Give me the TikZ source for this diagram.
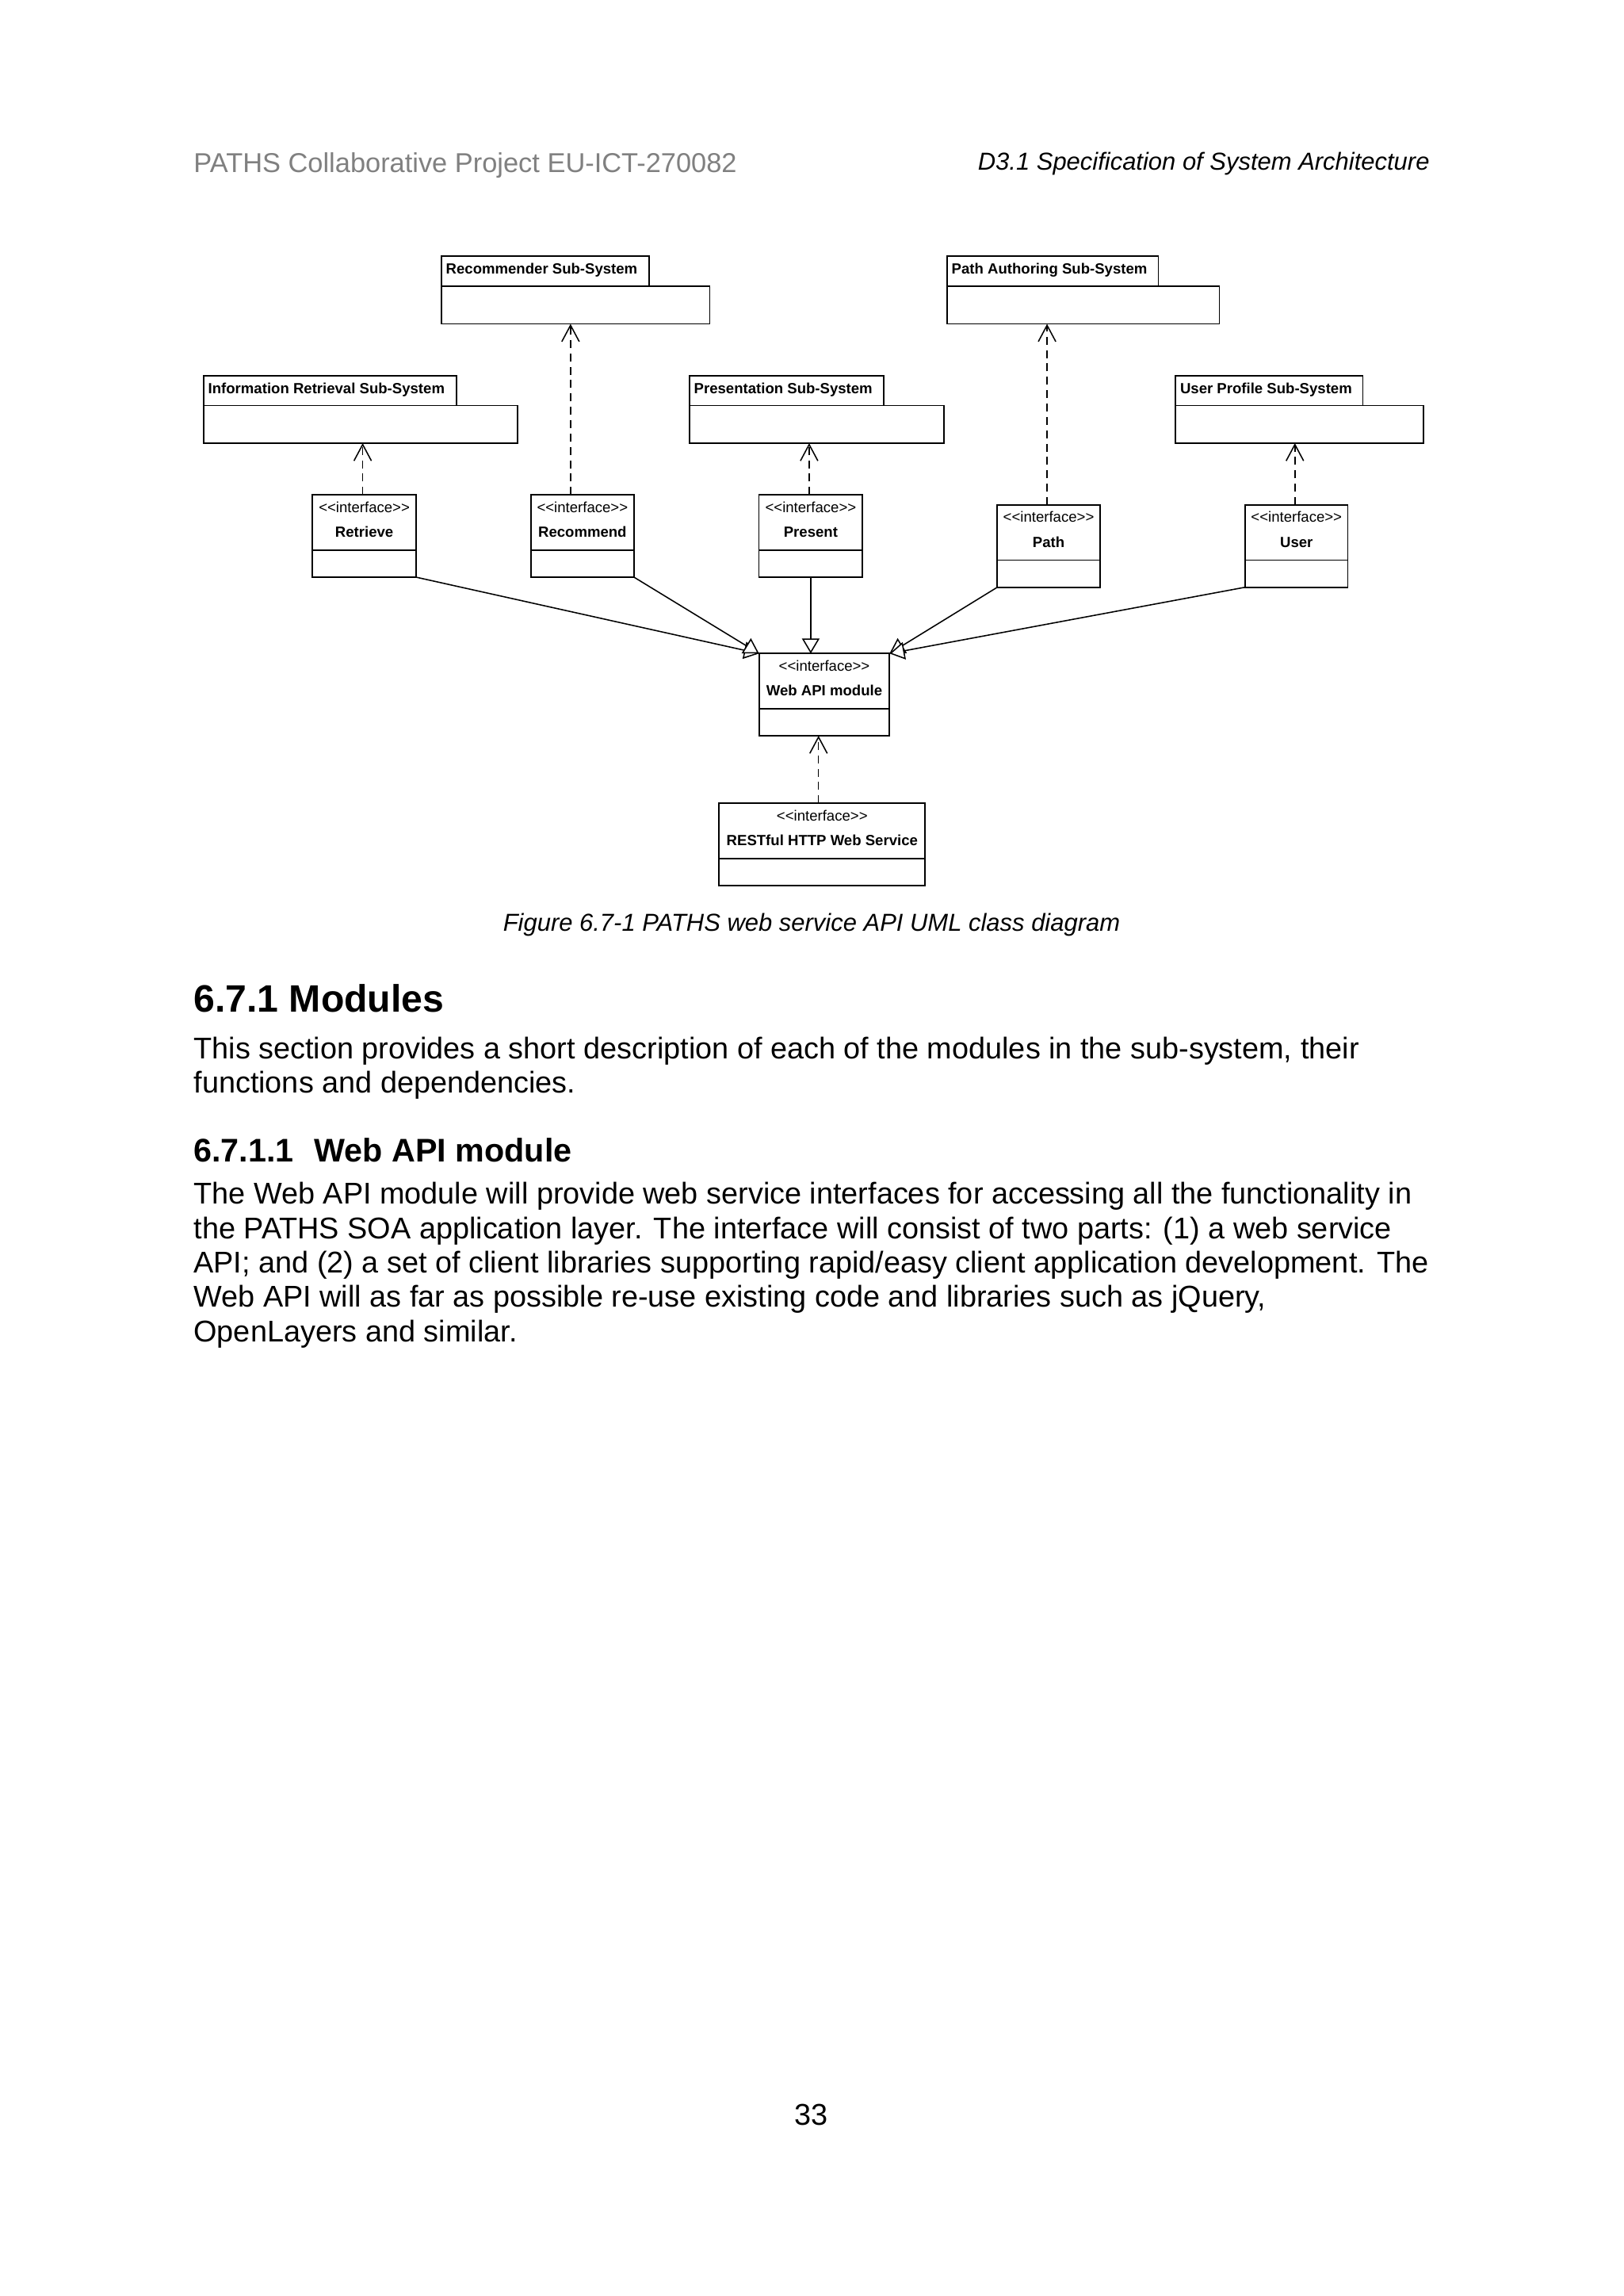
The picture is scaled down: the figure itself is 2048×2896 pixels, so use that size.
\documentclass[tikz,border=0pt]{standalone}
\usepackage{fontspec}
\setmainfont{Liberation Sans}
\usetikzlibrary{arrows.meta,calc}
\newlength\PX \setlength\PX{0.29067pt}
\definecolor{hdrgray}{RGB}{128,128,128}
\tikzset{
 ubox/.style={draw, line width=0.5pt, anchor=north west, inner sep=0pt, outer sep=0pt, fill=white},
 boxline/.style={line width=0.5pt},
 tablabel/.style={anchor=base west, inner sep=0pt, font=\fontsize{5.4pt}{6.5pt}\selectfont\bfseries},
 stereo/.style={anchor=base, inner sep=0pt, font=\fontsize{5.4pt}{6.5pt}\selectfont},
 iname/.style={anchor=base, inner sep=0pt, font=\fontsize{5.4pt}{6.5pt}\selectfont\bfseries},
 dep/.style={line width=0.45pt, dash pattern=on 2.9pt off 2pt, -{Straight Barb[length=6pt,width=6.4pt]}},
 gen/.style={line width=0.45pt, -{Triangle[length=5.5pt,width=6.4pt,fill=white]}},
 txt/.style={anchor=base west, inner sep=0pt},
 body/.style={txt, font=\fontsize{11pt}{12.65pt}\selectfont},
}
\newcommand\umlpkg[6]{% name, x, y, tab width, body width, label
  \node[ubox, minimum width=#4\PX, minimum height=37.7\PX] (#1-tab) at (#2,#3) {};
  \node[tablabel] (#1-lb) at ($(#1-tab.north west)+(5,22.4)$) {#6};
  \node[ubox, minimum width=#5\PX, minimum height=47.6\PX] (#1) at (#1-tab.south west) {};
}
\newcommand\umliface[5]{% name, x, y, width, label
  \node[ubox, minimum width=#4\PX, minimum height=103.7\PX] (#1) at (#2,#3) {};
  \node[stereo] (#1-s) at ($(#1.north)+(0,21.7)$) {<{}<interface>{}>};
  \node[iname] (#1-n) at ($(#1.north)+(0,53)$) {#5};
  \draw[boxline] ($(#1.north west)+(0,69.4)$) -- ($(#1.north east)+(0,69.4)$);
}
\begin{document}
\begin{tikzpicture}[x=0.29067pt, y=-0.29067pt]
\fill[white] (0,0) rectangle (2048,2896);
\useasboundingbox (0,0) rectangle (2048,2896);

% header
\node[txt, font=\fontsize{10pt}{12pt}\selectfont, text=hdrgray] (hdrL) at (243.8,217) {PATHS Collaborative Project EU-ICT-270082};
\node[anchor=base east, inner sep=0pt, font=\fontsize{9pt}{11pt}\selectfont\itshape] (hdrR) at (1804.2,214) {D3.1 Specification of System Architecture};

% packages
\umlpkg{recsys}{557}{323.3}{262}{338.4}{Recommender Sub-System}
\umlpkg{pathsys}{1195}{323.3}{266.6}{343.4}{Path Authoring Sub-System}
\umlpkg{irsys}{257}{473.7}{319.2}{396}{Information Retrieval Sub-System}
\umlpkg{presys}{870}{473.7}{244.7}{321}{Presentation Sub-System}
\umlpkg{usersys}{1483.3}{473.7}{236.3}{313}{User Profile Sub-System}

% interfaces
\umliface{retrieve}{394.3}{624.3}{130.6}{Retrieve}
\umliface{recommend}{669.8}{624.3}{130.1}{Recommend}
\umliface{present}{957.6}{624.3}{130.6}{Present}
\umliface{path}{1258.3}{637}{129.5}{Path}
\umliface{user}{1571}{637}{129.5}{User}
\umliface{webapi}{957.7}{824.3}{164.6}{Web API module}
\umliface{rest}{907.3}{1013.3}{260}{RESTful HTTP Web Service}

% dependencies
\coordinate (dRet) at ($(retrieve.north)+(-2,0)$);
\coordinate (dRec) at ($(recommend.north)+(-15,0)$);
\coordinate (dPre) at ($(present.north)+(-2,0)$);
\coordinate (dPat) at ($(path.north)+(-2,0)$);
\coordinate (dUse) at ($(user.north)+(-2,0)$);
\coordinate (dRst) at ($(rest.north)+(-4.6,0)$);
\draw[dep] (dRet) -- (dRet |- irsys.south);
\draw[dep] (dRec) -- (dRec |- recsys.south);
\draw[dep] (dPre) -- (dPre |- presys.south);
\draw[dep] (dPat) -- (dPat |- pathsys.south);
\draw[dep] (dUse) -- (dUse |- usersys.south);
\draw[dep] (dRst) -- (dRst |- webapi.south);

% generalizations
\draw[gen] (retrieve.south east) -- (webapi.north west);
\draw[gen] (recommend.south east) -- (webapi.north west);
\draw[gen] (present.south) -- (present.south |- webapi.north);
\draw[gen] (path.south west) -- (webapi.north east);
\draw[gen] (user.south west) -- (webapi.north east);

% caption and text
\node[anchor=base, inner sep=0pt, font=\fontsize{9pt}{11pt}\selectfont\itshape] (caption) at (1024,1174) {Figure 6.7-1 PATHS web service API UML class diagram};
\node[txt, font=\fontsize{14pt}{17pt}\selectfont\bfseries] (h1) at (243.8,1276) {6.7.1 Modules};
\node[body] (p1a) at (243.8,1335) {This section provides a short description of each of the modules in the sub-system, their};
\node[body] (p1b) at (243.8,1378.5) {functions and dependencies.};
\node[txt, font=\fontsize{12pt}{14pt}\selectfont\bfseries] (h2) at (243.8,1465.5) {6.7.1.1\hspace{7.5pt}Web API module};
\node[body] (p2a) at (243.8,1518.5) {The Web API module will provide web service interfaces for accessing all the functionality in};
\node[body] (p2b) at (243.8,1562) {the PATHS SOA application layer. The interface will consist of two parts: (1) a web service};
\node[body] (p2c) at (243.8,1605.3) {API; and (2) a set of client libraries supporting rapid/easy client application development. The};
\node[body] (p2d) at (243.8,1648.8) {Web API will as far as possible re-use existing code and libraries such as jQuery,};
\node[body] (p2e) at (243.8,1692.2) {OpenLayers and similar.};
\node[anchor=base, inner sep=0pt, font=\fontsize{11pt}{13pt}\selectfont] (pagenum) at (1023.5,2680) {33};
\end{tikzpicture}
\end{document}
